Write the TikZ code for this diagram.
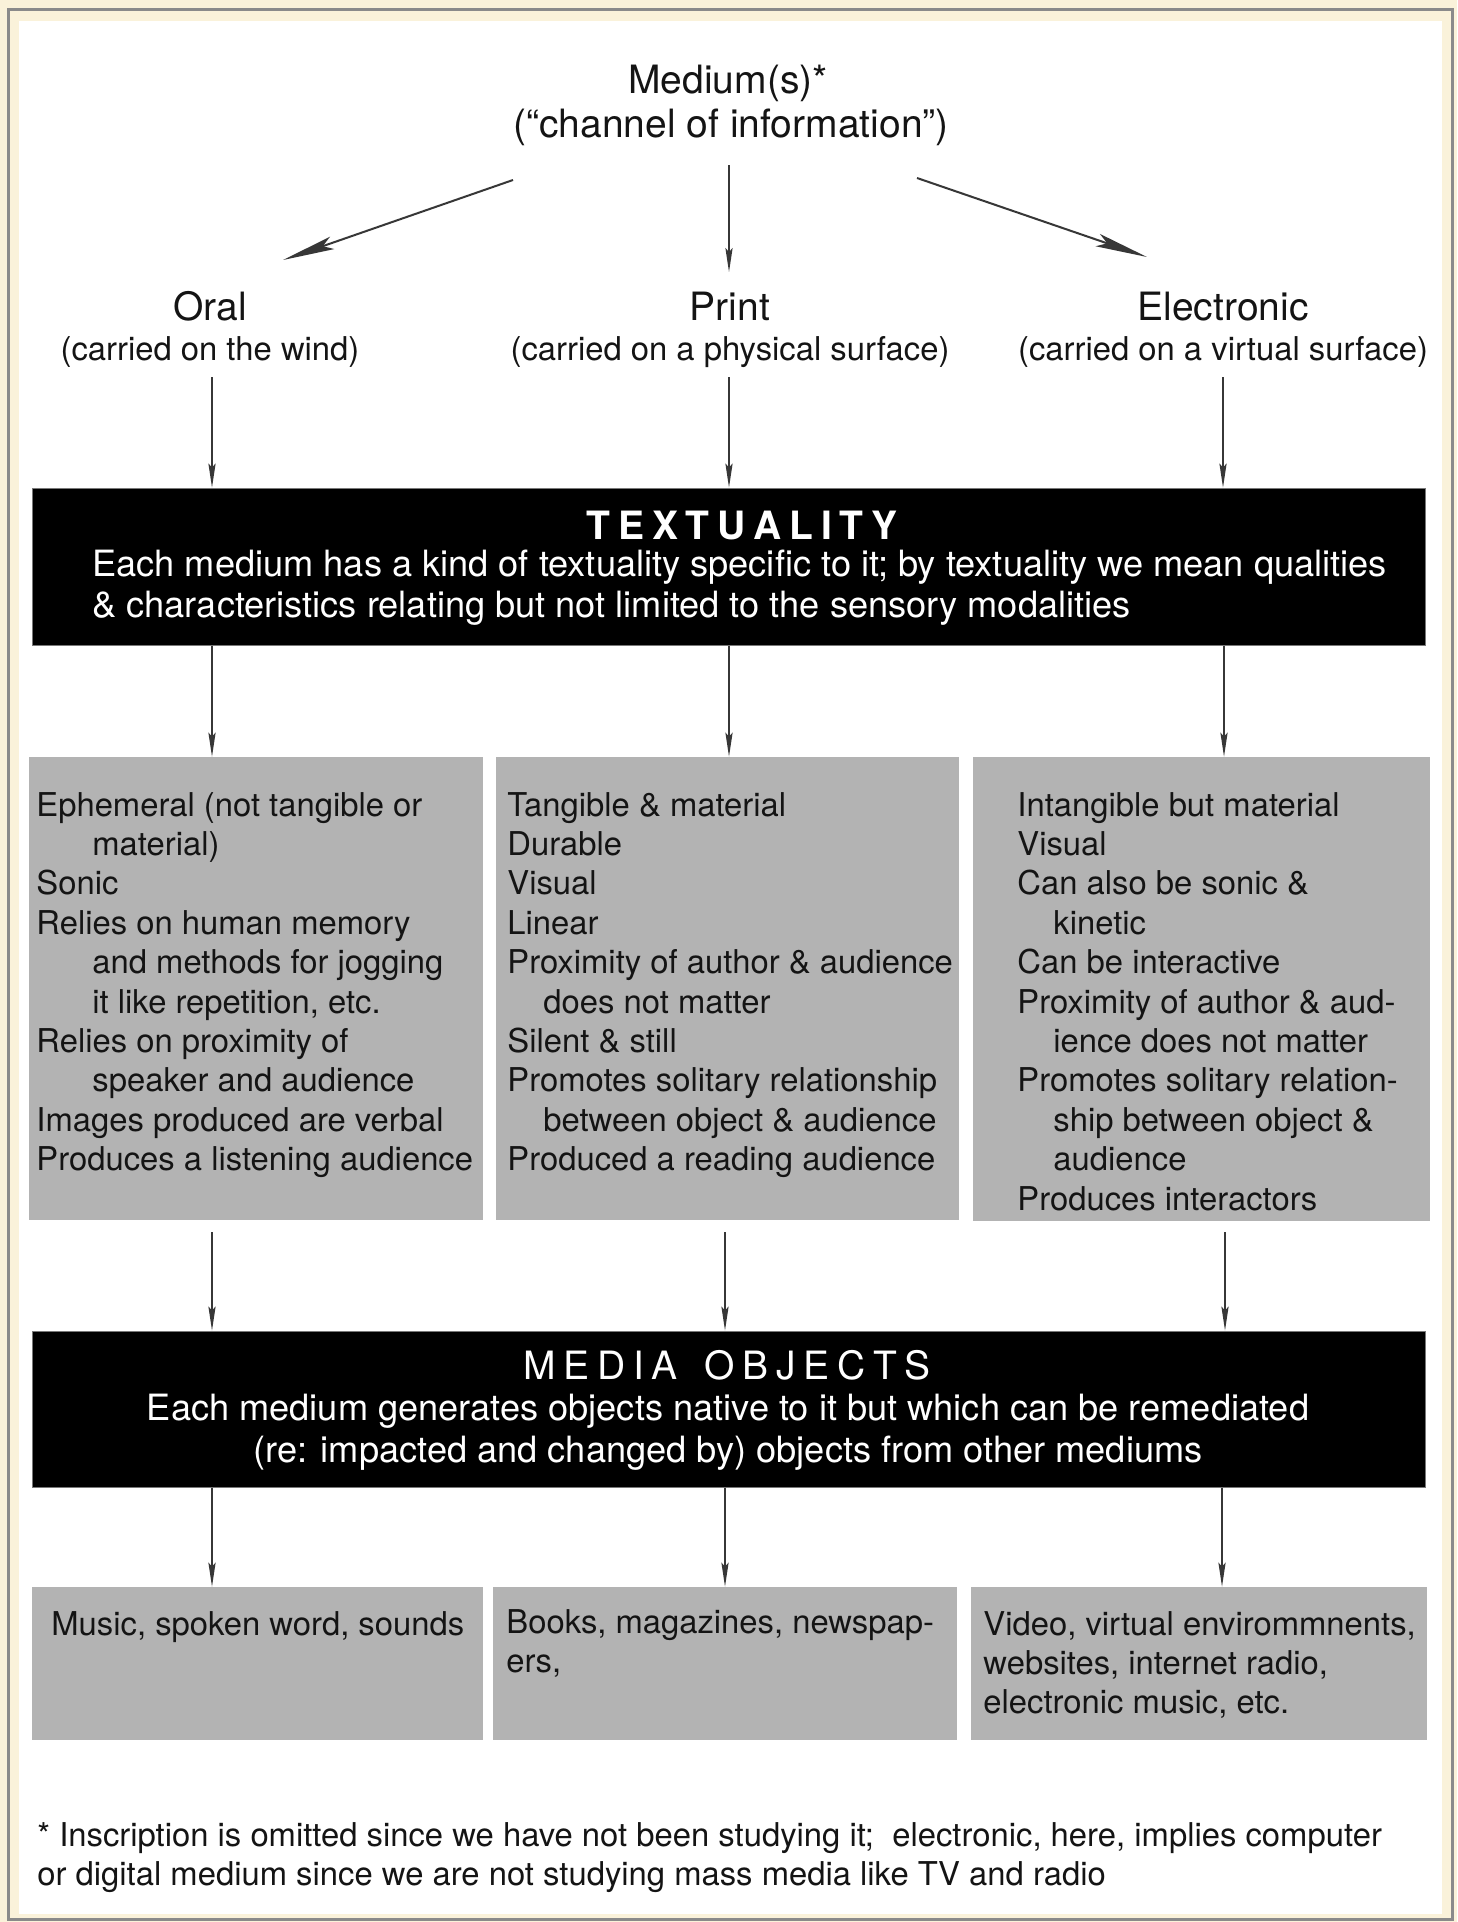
\documentclass[tikz,border=0pt]{standalone}
\usepackage{fontspec}
\setmainfont{TeX Gyre Heros}
\usetikzlibrary{arrows.meta,fit}
\definecolor{cream}{RGB}{250,242,218}
\definecolor{framegray}{RGB}{138,138,138}
\definecolor{boxgray}{RGB}{179,179,179}
\definecolor{arrowgray}{RGB}{55,55,55}
\definecolor{edgegray}{RGB}{120,120,120}
\newcommand\LS{\kern3.9pt}
\begin{document}
\begin{tikzpicture}[x=0.5pt,y=-0.5pt,
  txt/.style={inner sep=0pt, anchor=base west, text=black!92, font=\fontsize{16.4}{19.7}\selectfont},
  ctxt/.style={txt, anchor=base},
  big/.style={inner sep=0pt, anchor=base, text=black!92, font=\fontsize{19.5}{22.5}\selectfont},
  wtxt/.style={inner sep=0pt, anchor=base west, text=white, font=\fontsize{18.1}{21}\selectfont},
  whead/.style={inner sep=0pt, anchor=base, text=white, font=\fontsize{19.5}{22.5}\selectfont},
  graybox/.style={fill=boxgray, draw=none, inner sep=0pt},
  blackbox/.style={fill=black, draw=edgegray, line width=0.5pt, inner sep=0pt},
  arr/.style={draw=arrowgray, line width=0.75pt, -{Stealth[length=12pt,width=3.6pt,inset=2pt]}},
  bigarr/.style={draw=arrowgray, line width=1pt, -{Stealth[length=26pt,width=6.5pt,inset=5pt]}}
]
\useasboundingbox (0,0) rectangle (1457,1922);
\fill[cream] (0,0) rectangle (1457,1922);
\draw[framegray, line width=1.5pt] (8,9) rectangle (1452,1919);
\fill[white] (19,21) rectangle (1442,1914);

% title
\node[big] (title1) at (728,93) {Medium(s)*};
\node[big] (title2) at (731,137) {(``channel of information'')};

% level 2
\node[big] (oral) at (210,320) {Oral};
\node[ctxt] (oralsub) at (210,360) {(carried on the wind)};
\node[big] (print) at (730,320) {Print};
\node[ctxt] (printsub) at (730,360) {(carried on a physical surface)};
\node[big] (elec) at (1223,320) {Electronic};
\node[ctxt] (elecsub) at (1223,360) {(carried on a virtual surface)};

% textuality box
\node[blackbox, fit={(32,488) (1425,645)}] (tex) {};
\node[whead] (texhead) at (742,539) {\bfseries T\LS E\LS X\LS T\LS U\LS A\LS L\LS I\LS T\LS Y};
\node[wtxt] (tex1) at (92,576) {Each medium has a kind of textuality specific to it; by textuality we mean qualities};
\node[wtxt] (tex2) at (92,617) {\& characteristics relating but not limited to the sensory modalities};

% row 1 gray boxes
\node[graybox, fit={(29,757) (483,1220)}] (b1) {};
\node[graybox, fit={(496,757) (959,1220)}] (b2) {};
\node[graybox, fit={(973,757) (1430,1221)}] (b3) {};

\foreach \ind/\txt [count=\i from 0] in {0/{Ephemeral (not tangible or}, 1/{material)}, 0/{Sonic}, 0/{Relies on human memory}, 1/{and methods for jogging}, 1/{it like repetition, etc.}, 0/{Relies on proximity of}, 1/{speaker and audience}, 0/{Images produced are verbal}, 0/{Produces a listening audience}}
  \node[txt] (oraline\i) at (36+56*\ind, 816+39.4*\i) {\txt};

\foreach \ind/\txt [count=\i from 0] in {0/{Tangible \& material}, 0/{Durable}, 0/{Visual}, 0/{Linear}, 0/{Proximity of author \& audience}, 1/{does not matter}, 0/{Silent \& still}, 0/{Promotes solitary relationship}, 1/{between object \& audience}, 0/{Produced a reading audience}}
  \node[txt] (prline\i) at (507+36*\ind, 816+39.4*\i) {\txt};

\foreach \ind/\txt [count=\i from 0] in {0/{Intangible but material}, 0/{Visual}, 0/{Can also be sonic \&}, 1/{kinetic}, 0/{Can be interactive}, 0/{Proximity of author \& aud-}, 1/{ience does not matter}, 0/{Promotes solitary relation-}, 1/{ship between object \&}, 1/{audience}, 0/{Produces interactors}}
  \node[txt] (elline\i) at (1017+36*\ind, 816+39.4*\i) {\txt};

% media objects box
\node[blackbox, fit={(32,1331) (1425,1487)}] (med) {};
\node[whead] (medhead) at (727,1379) {M\LS E\LS D\LS I\LS A\LS\ \LS O\LS B\LS J\LS E\LS C\LS T\LS S};
\node[whead, font=\fontsize{18.1}{21}\selectfont] (med1) at (728,1420) {Each medium generates objects native to it but which can be remediated};
\node[whead, font=\fontsize{18.1}{21}\selectfont] (med2) at (728,1462) {(re: impacted and changed by) objects from other mediums};

% bottom boxes
\node[graybox, fit={(32,1587) (483,1740)}] (c1) {};
\node[graybox, fit={(493,1587) (957,1740)}] (c2) {};
\node[graybox, fit={(971,1587) (1427,1740)}] (c3) {};
\node[txt] (c1t) at (51,1635) {Music, spoken word, sounds};
\node[txt] (c2t1) at (506,1633) {Books, magazines, newspap-};
\node[txt] (c2t2) at (506,1672) {ers,};
\node[txt] (c3t1) at (983,1635) {Video, virtual envirommnents,};
\node[txt] (c3t2) at (983,1674) {websites, internet radio,};
\node[txt] (c3t3) at (983,1713) {electronic music, etc.};

% footnote
\node[txt] (fn1) at (37,1846) {* Inscription is omitted since we have not been studying it;\ \ electronic, here, implies computer};
\node[txt] (fn2) at (37,1885) {or digital medium since we are not studying mass media like TV and radio};

% arrows from title
\coordinate (ta) at (513,180); \coordinate (tae) at (283,260);
\coordinate (tb) at (729,165); \coordinate (tbe) at (729,272);
\coordinate (tc) at (917,178); \coordinate (tce) at (1147,257);
\draw[bigarr] (ta) -- (tae);
\draw[arr] (tb) -- (tbe);
\draw[bigarr] (tc) -- (tce);

% level 2 -> textuality
\coordinate (la) at (212,377); \coordinate (lb) at (729,377); \coordinate (lc) at (1223,377);
\draw[arr] (la) -- (la |- tex.north);
\draw[arr] (lb) -- (lb |- tex.north);
\draw[arr] (lc) -- (lc |- tex.north);

% textuality -> row 1
\coordinate (ma) at (212,645); \coordinate (mb) at (729,645); \coordinate (mc) at (1224,645);
\draw[arr] (ma |- tex.south) -- (ma |- b1.north);
\draw[arr] (mb |- tex.south) -- (mb |- b2.north);
\draw[arr] (mc |- tex.south) -- (mc |- b3.north);

% row 1 -> media objects
\coordinate (na) at (212,1232); \coordinate (nb) at (725,1232); \coordinate (nc) at (1225,1232);
\draw[arr] (na) -- (na |- med.north);
\draw[arr] (nb) -- (nb |- med.north);
\draw[arr] (nc) -- (nc |- med.north);

% media objects -> bottom boxes
\coordinate (pa) at (212,1487); \coordinate (pb) at (725,1487); \coordinate (pc) at (1222,1487);
\draw[arr] (pa |- med.south) -- (pa |- c1.north);
\draw[arr] (pb |- med.south) -- (pb |- c2.north);
\draw[arr] (pc |- med.south) -- (pc |- c3.north);
\end{tikzpicture}
\end{document}
